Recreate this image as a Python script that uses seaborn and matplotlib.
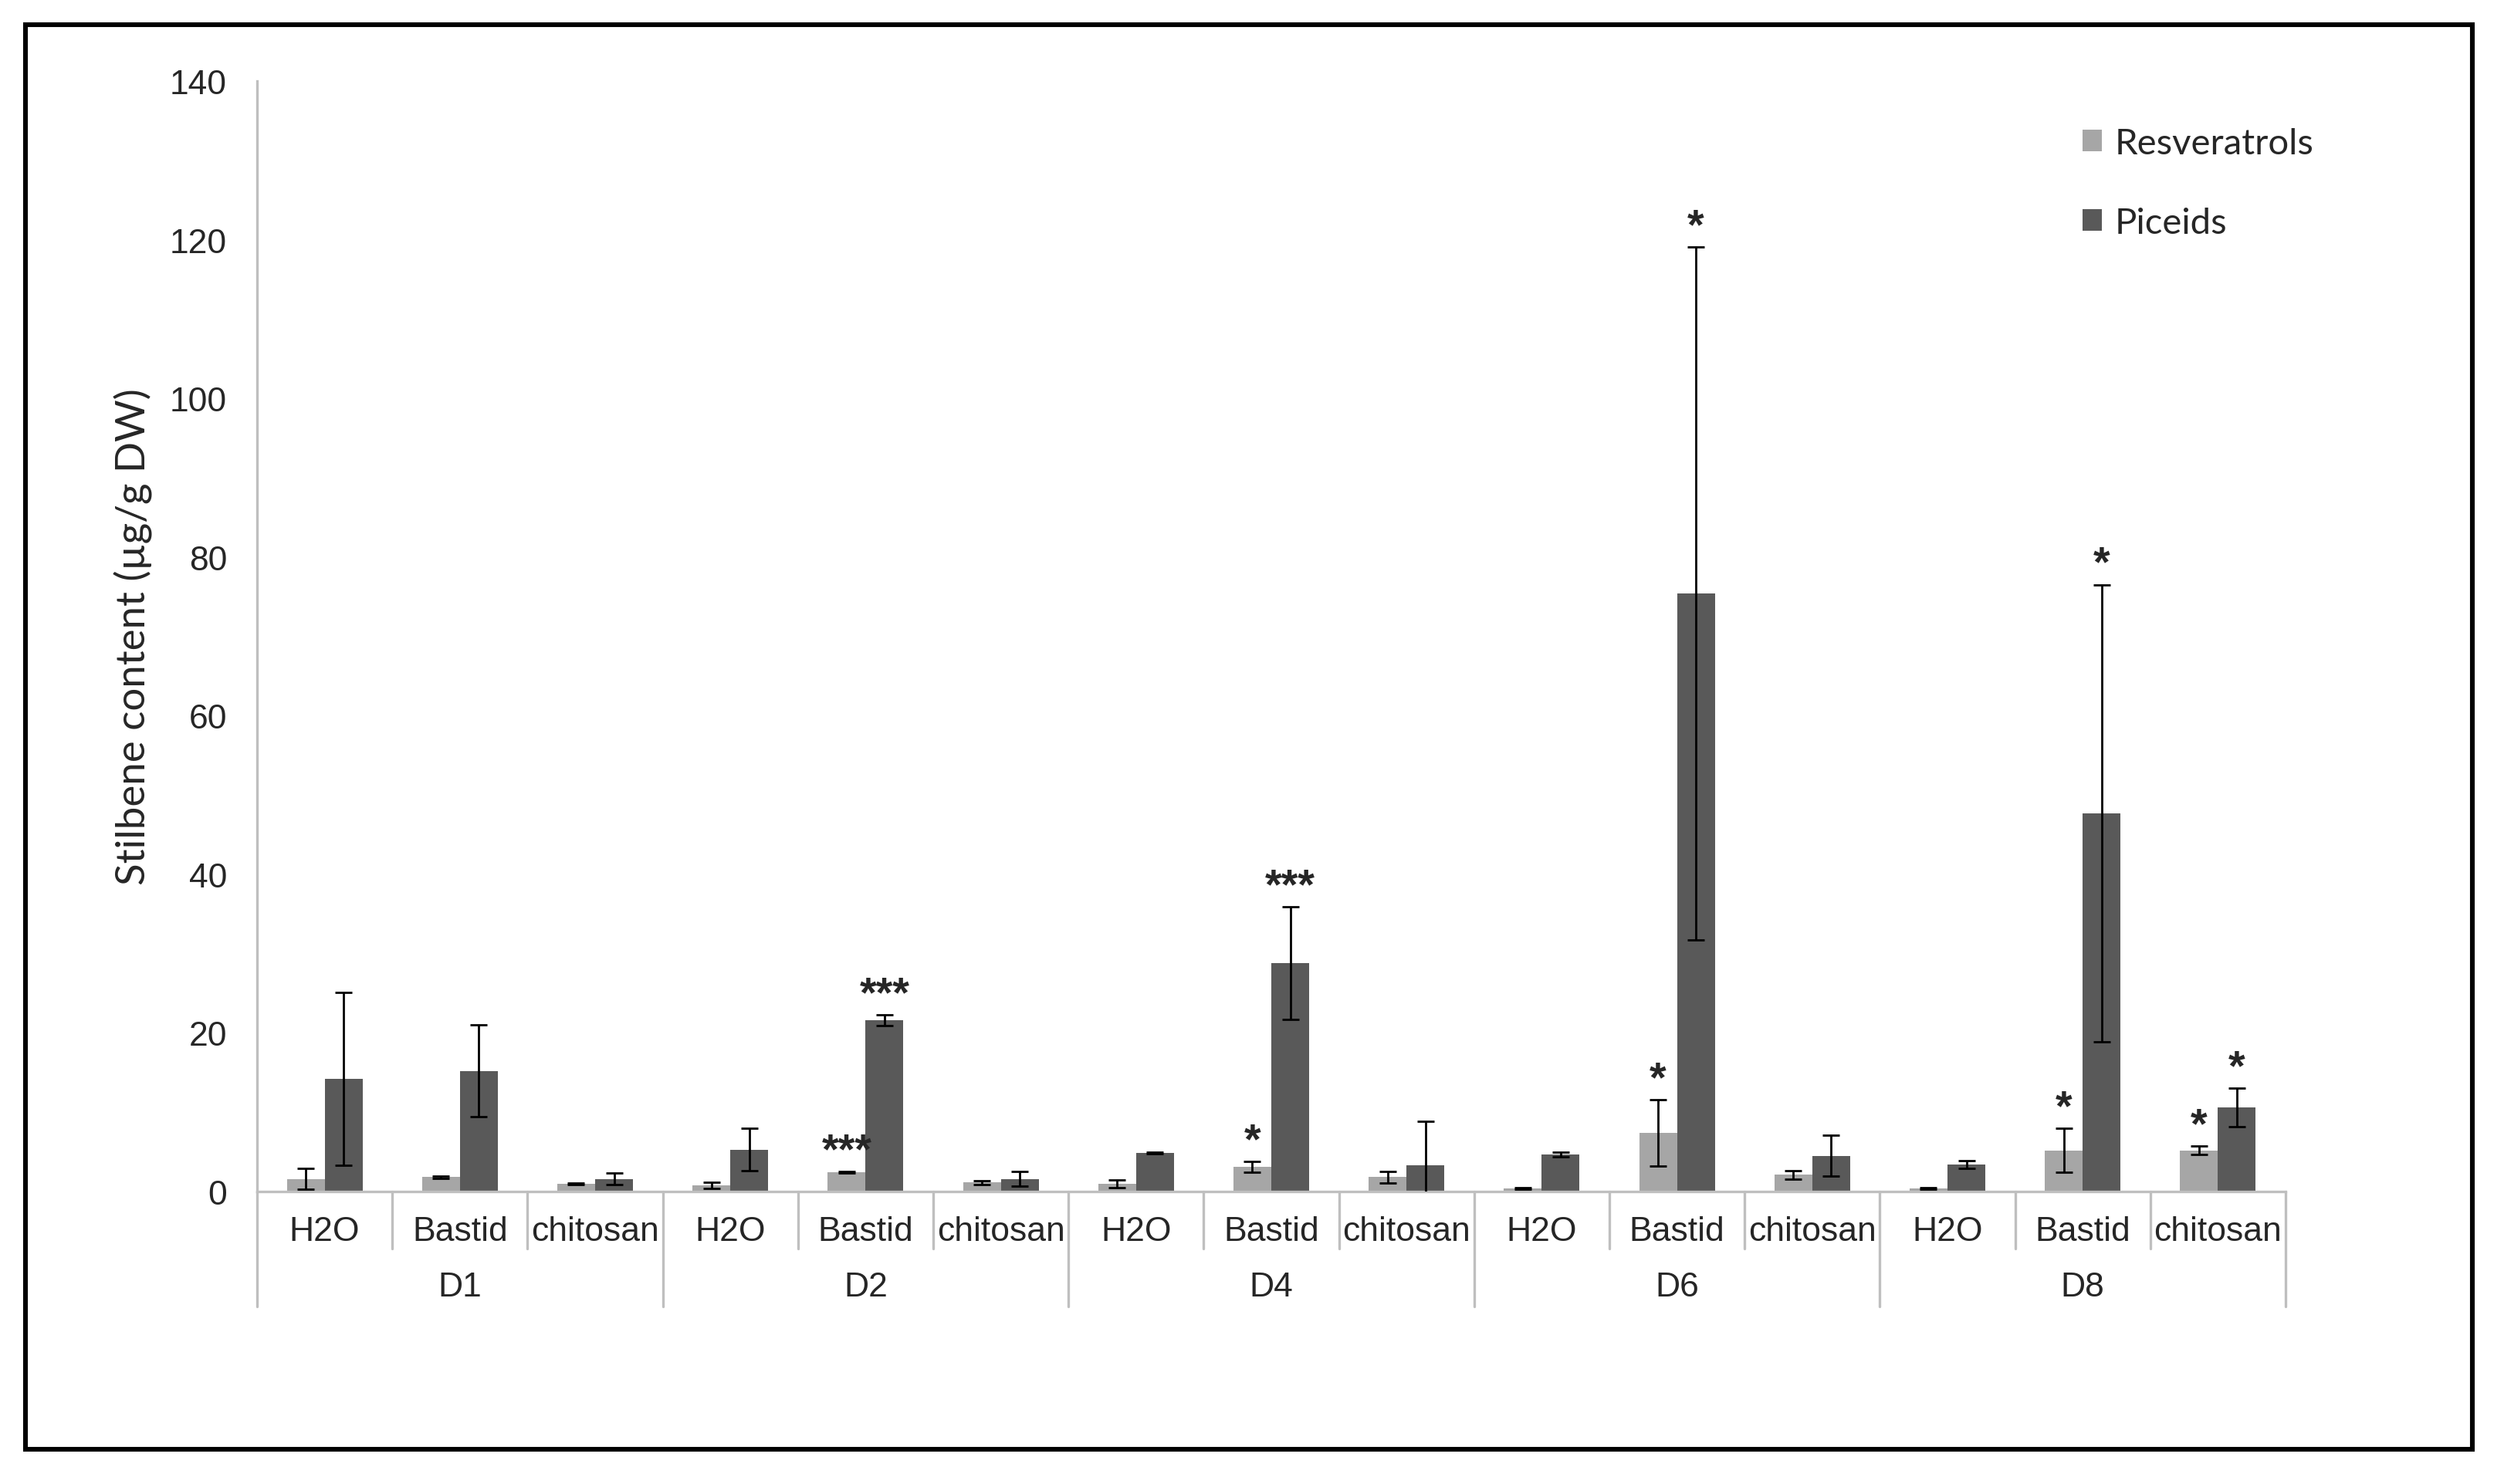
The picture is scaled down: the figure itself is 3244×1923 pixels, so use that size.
import numpy as np
import pandas as pd
import matplotlib
matplotlib.use("Agg")
import matplotlib.pyplot as plt
import seaborn as sns
from matplotlib.patches import Rectangle, Patch
from matplotlib.lines import Line2D
import matplotlib.transforms as mtrans

# ---------------- data ----------------
days = ["D1", "D2", "D4", "D6", "D8"]
treatments = ["H2O", "Bastid", "chitosan"]
series = ["Resveratrols", "Piceids"]

res_mean = [1.6, 1.8, 1.0, 0.8, 2.4, 1.16, 1.0, 3.1, 1.8, 0.35, 7.4, 2.1, 0.35, 5.2, 5.2]
res_err = [1.3, 0.1, 0.1, 0.4, 0.1, 0.25, 0.5, 0.65, 0.7, 0.1, 4.2, 0.5, 0.1, 2.75, 0.55]
pic_mean = [14.2, 15.2, 1.6, 5.3, 21.6, 1.6, 4.9, 28.8, 3.3, 4.7, 75.4, 4.5, 3.4, 47.7, 10.6]
pic_err = [10.9, 5.8, 0.75, 2.65, 0.7, 0.9, 0.1, 7.1, 5.6, 0.3, 43.7, 2.6, 0.5, 28.8, 2.45]
res_sig = ["", "", "", "", "***", "", "", "*", "", "", "*", "", "", "*", "*"]
pic_sig = ["", "", "", "", "***", "", "", "***", "", "", "*", "", "", "*", "*"]
yticks = [0, 20, 40, 60, 80, 100, 120, 140]
ylabel = "Stilbene content (µg/g DW)"

colors = {"Resveratrols": "#a6a6a6", "Piceids": "#595959"}

# ---------------- table ----------------
conds = [f"{d}|{t}" for d in days for t in treatments]
df = pd.DataFrame({
    "cond": conds * 2,
    "series": ["Resveratrols"] * len(conds) + ["Piceids"] * len(conds),
    "value": res_mean + pic_mean,
    "err": res_err + pic_err,
    "sig": res_sig + pic_sig,
})

sns.set_style("white")
plt.rcParams["font.family"] = ["Liberation Sans", "DejaVu Sans"]

W, H = 3244, 1924
dpi = 200
fig = plt.figure(figsize=(W / dpi, H / dpi), dpi=dpi)
fig.patch.set_facecolor("white")

x0, x1 = 333, 2961
y_top, y_zero = 106, 1545
ax = fig.add_axes([x0 / W, 1 - y_zero / H, (x1 - x0) / W, (y_zero - y_top) / H])

sns.barplot(data=df, x="cond", y="value", hue="series", order=conds,
            hue_order=series, palette=colors, width=0.56, errorbar=None,
            saturation=1, linewidth=0, legend=False, ax=ax)

ax.set_ylim(0, 140)
ax.set_xlim(-0.5, len(conds) - 0.5)
ax.set_yticks(yticks)
ax.set_yticklabels([str(v) for v in yticks], fontsize=16)
ax.set_xticks([])
ax.set_xlabel("")
ax.set_ylabel(ylabel, fontsize=19, family=["Lato", "DejaVu Sans"], labelpad=8)
ax.tick_params(axis="y", length=6, width=1, color="#bfbfbf", direction="out", pad=8)

for s in ["top", "right"]:
    ax.spines[s].set_visible(False)
ax.spines["left"].set_color("#bfbfbf")
ax.spines["left"].set_linewidth(1.2)
ax.spines["bottom"].set_color("#bfbfbf")
ax.spines["bottom"].set_linewidth(1.2)

# error bars + significance
for cont, s in zip(ax.containers, series):
    sub = df[df["series"] == s].reset_index(drop=True)
    xs = [p.get_x() + p.get_width() / 2 for p in cont.patches]
    ax.errorbar(xs, sub["value"], yerr=sub["err"], fmt="none", ecolor="black",
                elinewidth=1.0, capsize=4, capthick=1.0, zorder=5)
    for xc, v, e, sg in zip(xs, sub["value"], sub["err"], sub["sig"]):
        if sg:
            ax.annotate(sg, (xc, v + e), xytext=(0, 0), textcoords="offset points",
                        ha="center", va="bottom", fontsize=20, fontweight="bold",
                        family=["Liberation Sans"])

# two-level category axis
trans = mtrans.blended_transform_factory(ax.transData, ax.transAxes)
hpx = y_zero - y_top
sub_bot = -(1619 - y_zero) / hpx
grp_bot = -(1694 - y_zero) / hpx
sub_lab = -(1597 - y_zero) / hpx
grp_lab = -(1669 - y_zero) / hpx
lc = "#bfbfbf"
for i, c in enumerate(conds):
    d, t = c.split("|")
    ax.text(i, sub_lab, t, transform=trans, ha="center", va="center", fontsize=16)
for k in range(len(conds) + 1):
    xb = k - 0.5
    bot = grp_bot if k % 3 == 0 else sub_bot
    ax.add_line(Line2D([xb, xb], [0, bot], transform=trans, color=lc, lw=1.2, clip_on=False))
for j, d in enumerate(days):
    ax.text(3 * j + 1, grp_lab, d, transform=trans, ha="center", va="center", fontsize=16)

# legend
handles = [Patch(facecolor=colors[s], edgecolor="none", label=s) for s in series]
fig.legend(handles=handles, loc="upper left", bbox_to_anchor=(2655 / W, 1 - 123 / H),
           frameon=False, handlelength=0.55, handleheight=0.55,
           handletextpad=0.35, labelspacing=1.3,
           prop={"family": ["Lato", "DejaVu Sans"], "size": 17})

# outer frame
fig.patches.append(Rectangle((33 / W, 1 - 1879 / H), (3203 - 33) / W, (1879 - 33) / H,
                             transform=fig.transFigure, fill=False, edgecolor="black",
                             linewidth=2.2))

fig.savefig("out.png", dpi=dpi)
